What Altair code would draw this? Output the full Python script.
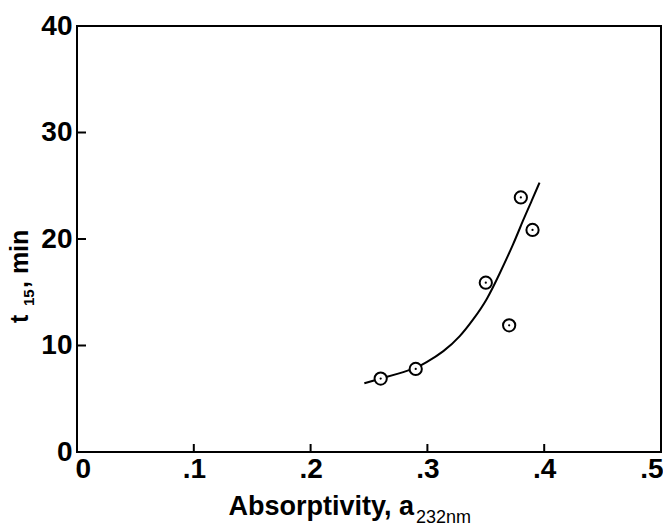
import altair as alt
import pandas as pd

# measured data points (absorptivity at 232 nm, t15 in min)
absorptivity = [0.26, 0.29, 0.35, 0.37, 0.38, 0.39]
t15 = [6.9, 7.8, 15.9, 11.9, 23.9, 20.85]

# fitted curve
curve_x = [0.246, 0.26, 0.275, 0.29, 0.298, 0.314, 0.328, 0.339, 0.351, 0.362, 0.374, 0.382, 0.389, 0.396]
curve_y = [6.45, 6.9, 7.35, 7.85, 8.33, 9.42, 10.83, 12.4, 14.27, 16.78, 19.6, 21.8, 23.5, 25.3]

x_label_values = [0, 0.1, 0.2, 0.3, 0.4, 0.5]
y_label_values = [0, 10, 20, 30, 40]
x_inner_ticks = [0.1, 0.2, 0.3, 0.4]
y_inner_ticks = [10, 20, 30]

W, H = 584, 426
TICK_FONT = "Liberation Sans Narrow, Liberation Sans, Arial, sans-serif"
TITLE_FONT = "Liberation Sans, Arial, sans-serif"

xs = alt.Scale(domain=[0, 0.5], nice=False, zero=False)
ys = alt.Scale(domain=[0, 40], nice=False, zero=False)

pts = pd.DataFrame({"a": absorptivity, "t": t15})
crv = pd.DataFrame({"a": curve_x, "t": curve_y})

x_axis = alt.Axis(
    values=x_label_values, domain=False, ticks=False, grid=False, title=None,
    labelExpr="datum.value == 0 ? '0' : replace(format(datum.value, '.1f'), '0.', '.')",
    labelFont=TICK_FONT, labelFontSize=28, labelFontWeight="bold", labelColor="black",
    labelPadding=3, labelAngle=0, labelFlush=True, labelFlushOffset=2,
)
y_axis = alt.Axis(
    values=y_label_values, domain=False, ticks=False, grid=False, title=None,
    format="d", labelFont=TICK_FONT, labelFontSize=28, labelFontWeight="bold",
    labelColor="black", labelPadding=5, labelFlush=False,
)


def X(field):
    return alt.X(field, scale=xs, axis=x_axis)


def Y(field):
    return alt.Y(field, scale=ys, axis=y_axis)


curve = alt.Chart(crv).mark_line(
    color="black", strokeWidth=2, interpolate="basis"
).encode(x=X("a:Q"), y=Y("t:Q"), order="a:Q")

circles = alt.Chart(pts).mark_circle(
    fill="white", stroke="black", strokeWidth=2, size=150, opacity=1
).encode(x=X("a:Q"), y=Y("t:Q"))

dots = alt.Chart(pts).mark_circle(color="black", size=5, opacity=1).encode(
    x=X("a:Q"), y=Y("t:Q")
)

yt = alt.Chart(pd.DataFrame({"a": y_inner_ticks})).mark_rule(
    color="black", strokeWidth=2
).encode(y=Y("a:Q"), x=alt.value(0), x2=alt.value(9))

xt = alt.Chart(pd.DataFrame({"a": x_inner_ticks})).mark_rule(
    color="black", strokeWidth=2
).encode(x=X("a:Q"), y=alt.value(H), y2=alt.value(H - 8))


def label(text, x, y, size, align="left", angle=0, weight="bold"):
    kw = dict(align=align, baseline="alphabetic", fontSize=size, fontWeight=weight,
              font=TITLE_FONT, color="black")
    if angle:
        kw["angle"] = angle
    return alt.Chart(pd.DataFrame({"s": [text]})).mark_text(**kw).encode(
        x=alt.value(x), y=alt.value(y), text="s:N"
    )


titles = [
    label("Absorptivity, a", 337, 489, 27, align="right"),
    label("232nm", 339, 497, 18, align="left", weight="normal"),
    label("t", -49, 297, 25, align="left", angle=270),
    label("15", -43, 280, 15, align="left", angle=270),
    label(", min", -49, 262, 25, align="left", angle=270),
]

chart = alt.layer(curve, yt, xt, circles, dots, *titles).properties(
    width=W, height=H,
    autosize=alt.AutoSizeParams(type="none"),
    padding={"left": 69, "top": 18, "right": 2, "bottom": 76},
).configure_view(stroke="black", strokeWidth=2)

chart.save("out.html", embed_options={"renderer": "svg", "actions": False})
